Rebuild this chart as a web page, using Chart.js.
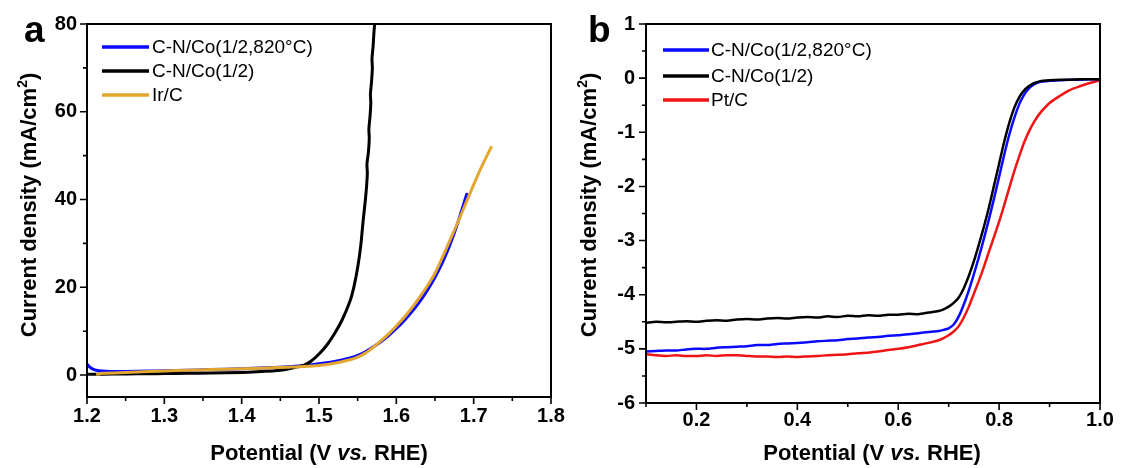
<!DOCTYPE html>
<html>
<head>
<meta charset="utf-8">
<title>OER / ORR polarization curves</title>
<script src="https://cdn.jsdelivr.net/npm/chart.js@4/dist/chart.umd.min.js"></script>
<style>
  body { margin: 0; background: #fff; }
  canvas { position: absolute; left: 0; top: 0; }
</style>
</head>
<body>
<canvas id="chartA" width="1135" height="468"></canvas>
<canvas id="chartB" width="1135" height="468"></canvas>
<script>
// ---- panel a : OER ----
const oerX_CNCo820 = [1.200,1.203,1.207,1.212,1.220,1.230,1.250,1.280,1.300,1.330,1.360,1.400,1.430,1.460,1.480,1.500,1.520,1.540,1.550,1.560,1.570,1.580,1.590,1.600,1.610,1.620,1.630,1.640,1.650,1.660,1.670,1.680,1.691];
const oerY_CNCo820 = [2.5,1.9,1.4,1.1,0.9,0.8,0.8,0.9,1.0,1.1,1.25,1.45,1.65,1.9,2.2,2.6,3.1,3.9,4.5,5.3,6.4,7.6,9.0,10.6,12.4,14.4,16.7,19.3,22.3,25.8,30.0,35.0,41.2];

const oerX_CNCo = [1.200,1.220,1.250,1.280,1.300,1.330,1.360,1.400,1.420,1.440,1.450,1.460,1.470,1.480,1.490,1.500,1.510,1.520,1.530,1.540,1.545,1.550,1.554,1.557,1.560,1.5615,1.5625,1.5620,1.5640,1.5650,1.5645,1.5660,1.5670,1.5665,1.5680,1.5690,1.5685,1.5700,1.5710,1.5720];
const oerY_CNCo = [0.20,0.20,0.25,0.30,0.35,0.40,0.45,0.60,0.75,0.95,1.10,1.40,1.80,2.20,3.20,4.80,6.80,9.40,12.6,16.8,20.0,24.5,29.5,35.0,40.0,43.0,46.0,48.0,51.0,54.0,56.0,59.0,62.0,64.0,67.0,70.0,72.0,75.0,78.0,80.0];

const oerX_IrC = [1.2135,1.220,1.250,1.280,1.300,1.330,1.360,1.400,1.430,1.460,1.480,1.500,1.520,1.540,1.550,1.560,1.570,1.580,1.590,1.600,1.610,1.620,1.630,1.640,1.650,1.660,1.670,1.680,1.690,1.700,1.710,1.7226];
const oerY_IrC = [0.2,0.4,0.6,0.8,0.95,1.1,1.25,1.45,1.6,1.8,1.95,2.2,2.7,3.5,4.1,5.0,6.3,7.8,9.4,11.2,13.1,15.3,17.7,20.3,23.2,27.0,31.0,35.0,39.2,43.4,47.4,51.9];

const oerXTicks = [1.2,1.3,1.4,1.5,1.6,1.7,1.8];
const oerXMinor = [1.25,1.35,1.45,1.55,1.65,1.75];
const oerYTicks = [0,20,40,60,80];
const oerYMinor = [10,30,50,70];

// ---- panel b : ORR ----
const orrX = [0.10,0.12,0.14,0.16,0.18,0.20,0.22,0.24,0.26,0.28,0.30,0.32,0.34,0.36,0.38,0.40,0.42,0.44,0.46,0.48,0.50,0.52,0.54,0.56,0.58,0.60,0.62,0.64,0.66,0.68,
              0.69,0.70,0.71,0.72,0.73,0.74,0.75,0.76,0.77,0.78,0.79,0.80,0.81,0.82,0.83,0.84,0.85,0.86,0.87,0.88,
              0.90,0.92,0.94,0.96,0.98,1.00];
const orrY_CNCo820 = [-5.05,-5.04,-5.03,-5.03,-5.01,-5.00,-5.00,-4.98,-4.97,-4.96,-4.95,-4.93,-4.93,-4.91,-4.90,-4.89,-4.88,-4.86,-4.85,-4.84,-4.82,-4.81,-4.79,-4.78,-4.76,-4.75,-4.73,-4.71,-4.69,-4.67,
                      -4.65,-4.62,-4.55,-4.40,-4.18,-3.92,-3.62,-3.30,-2.96,-2.60,-2.22,-1.82,-1.42,-1.05,-0.74,-0.48,-0.30,-0.18,-0.11,-0.07,
                      -0.05,-0.04,-0.03,-0.03,-0.02,-0.02];
const orrY_CNCo = [-4.52,-4.50,-4.51,-4.50,-4.49,-4.50,-4.48,-4.47,-4.48,-4.46,-4.45,-4.46,-4.44,-4.43,-4.44,-4.42,-4.41,-4.42,-4.40,-4.41,-4.39,-4.40,-4.38,-4.39,-4.37,-4.37,-4.35,-4.36,-4.33,-4.30,
                   -4.27,-4.22,-4.15,-4.05,-3.88,-3.65,-3.38,-3.07,-2.74,-2.38,-1.98,-1.58,-1.18,-0.83,-0.55,-0.35,-0.22,-0.14,-0.09,-0.06,
                   -0.04,-0.03,-0.03,-0.02,-0.02,-0.02];
const orrY_PtC = [-5.10,-5.12,-5.13,-5.12,-5.13,-5.13,-5.12,-5.13,-5.12,-5.12,-5.13,-5.14,-5.14,-5.15,-5.14,-5.15,-5.14,-5.13,-5.12,-5.11,-5.10,-5.08,-5.07,-5.05,-5.02,-5.00,-4.97,-4.93,-4.89,-4.84,
                  -4.80,-4.75,-4.68,-4.58,-4.42,-4.22,-3.98,-3.74,-3.48,-3.20,-2.93,-2.65,-2.35,-2.03,-1.72,-1.44,-1.18,-0.97,-0.80,-0.66,
                  -0.46,-0.33,-0.22,-0.15,-0.09,-0.04];

const orrXTicks = [0.2,0.4,0.6,0.8,1.0];
const orrXMinor = [0.1,0.3,0.5,0.7,0.9];
const orrYTicks = [1,0,-1,-2,-3,-4,-5,-6];
const orrYMinor = [0.5,-0.5,-1.5,-2.5,-3.5,-4.5,-5.5];

const FONT = 'Arial, "Liberation Sans", sans-serif';
const BLUE = '#0a0aff', BLACK = '#000000', GOLD = '#e3a72f', RED = '#f01414';

function pts(xs, ys) { return xs.map((x, i) => ({x: x, y: ys[i]})); }

// frame, outward ticks, legend, axis titles and the panel letter
const decor = {
  id: 'decor',
  afterDatasetsDraw(chart, args, o) {
    const ctx = chart.ctx, ca = chart.chartArea;
    const sx = chart.scales.x, sy = chart.scales.y;
    ctx.save();
    ctx.strokeStyle = '#000';
    ctx.lineWidth = 2;
    ctx.strokeRect(ca.left, ca.top, ca.right - ca.left, ca.bottom - ca.top);

    ctx.lineWidth = 1.6;
    ctx.beginPath();
    const tick = (vals, len, horiz) => vals.forEach(v => {
      if (horiz) { const p = sx.getPixelForValue(v); ctx.moveTo(p, ca.bottom); ctx.lineTo(p, ca.bottom + len); }
      else { const p = sy.getPixelForValue(v); ctx.moveTo(ca.left, p); ctx.lineTo(ca.left - len, p); }
    });
    tick(o.xMajor, 7, true); tick(o.xMinor, 4, true);
    tick(o.yMajor, 7, false); tick(o.yMinor, 4, false);
    ctx.stroke();

    // legend
    ctx.font = '19px ' + FONT;
    ctx.textBaseline = 'middle';
    ctx.textAlign = 'left';
    chart.data.datasets.forEach((ds, i) => {
      const y = o.legend.rows[i];
      ctx.strokeStyle = ds.borderColor;
      ctx.lineWidth = 3.5;
      ctx.beginPath();
      ctx.moveTo(o.legend.x0, y); ctx.lineTo(o.legend.x1, y);
      ctx.stroke();
      ctx.fillStyle = '#000';
      ctx.fillText(ds.label, o.legend.tx, y + 1);
    });

    // x title, "vs." in italics
    ctx.textBaseline = 'alphabetic';
    const parts = [['bold 22px ', 'Potential (V '], ['italic bold 22px ', 'vs.'], ['bold 22px ', ' RHE)']];
    let w = 0;
    parts.forEach(p => { ctx.font = p[0] + FONT; w += ctx.measureText(p[1]).width; });
    let x = o.xTitle[0] - w / 2;
    parts.forEach(p => { ctx.font = p[0] + FONT; ctx.fillText(p[1], x, o.xTitle[1]); x += ctx.measureText(p[1]).width; });

    // y title with superscript 2
    ctx.translate(o.yTitle[0], o.yTitle[1]);
    ctx.rotate(-Math.PI / 2);
    const main = 'Current density (mA/cm';
    ctx.font = 'bold 22px ' + FONT;
    const w1 = ctx.measureText(main).width, w3 = ctx.measureText(')').width;
    ctx.font = 'bold 14px ' + FONT;
    const w2 = ctx.measureText('2').width;
    let t = -(w1 + w2 + w3) / 2;
    ctx.font = 'bold 22px ' + FONT;
    ctx.fillText(main, t, 0); t += w1;
    ctx.font = 'bold 14px ' + FONT;
    ctx.fillText('2', t, -9); t += w2;
    ctx.font = 'bold 22px ' + FONT;
    ctx.fillText(')', t, 0);
    ctx.setTransform(1, 0, 0, 1, 0, 0);

    // panel letter
    ctx.font = 'bold 37px ' + FONT;
    ctx.fillStyle = '#000';
    ctx.fillText(o.letter[0], o.letter[1], o.letter[2]);
    ctx.restore();
  }
};

function makeChart(id, datasets, c) {
  return new Chart(document.getElementById(id), {
    type: 'line',
    data: { datasets: datasets },
    options: {
      responsive: false,
      animation: false,
      devicePixelRatio: 1,
      layout: { padding: { left: c.left - 60, right: 1135 - c.right, top: c.top, bottom: 0 } },
      elements: { point: { radius: 0 }, line: { tension: 0.25, borderCapStyle: 'round', borderJoinStyle: 'round' } },
      plugins: { legend: { display: false }, tooltip: { enabled: false }, decor: c.decor },
      scales: {
        x: {
          type: 'linear', min: c.xMin, max: c.xMax,
          grid: { display: false, drawTicks: false }, border: { display: false },
          afterBuildTicks: s => { s.ticks = c.xTicks.map(v => ({value: v})); },
          afterFit: s => { s.height = 468 - c.bottom; },
          ticks: { autoSkip: false, maxRotation: 0, padding: c.xPad, color: '#000',
                   font: { family: FONT, size: 20, weight: 'bold' }, callback: v => v.toFixed(1) }
        },
        y: {
          type: 'linear', min: c.yMin, max: c.yMax,
          grid: { display: false, drawTicks: false }, border: { display: false },
          afterBuildTicks: s => { s.ticks = c.yTicks.map(v => ({value: v})); },
          afterFit: s => { s.width = 60; },
          ticks: { autoSkip: false, padding: c.yPad, color: '#000',
                   font: { family: FONT, size: 20, weight: 'bold' }, callback: v => String(v) }
        }
      }
    },
    plugins: [decor]
  });
}

makeChart('chartA', [
  { label: 'C-N/Co(1/2,820°C)', data: pts(oerX_CNCo820, oerY_CNCo820), borderColor: BLUE, borderWidth: 3, order: 2 },
  { label: 'C-N/Co(1/2)', data: pts(oerX_CNCo, oerY_CNCo), borderColor: BLACK, borderWidth: 3, order: 1 },
  { label: 'Ir/C', data: pts(oerX_IrC, oerY_IrC), borderColor: GOLD, borderWidth: 3, order: 0 }
], {
  left: 87, right: 551, top: 24, bottom: 397,
  xMin: 1.2, xMax: 1.8, yMin: -5, yMax: 80,
  xTicks: oerXTicks, yTicks: oerYTicks, xPad: 7, yPad: 10,
  decor: {
    xMajor: oerXTicks, xMinor: oerXMinor, yMajor: oerYTicks, yMinor: oerYMinor,
    legend: { x0: 102, x1: 149, tx: 152, rows: [47, 71, 95] },
    xTitle: [319, 460], yTitle: [36, 205], letter: ['a', 24, 42]
  }
});

makeChart('chartB', [
  { label: 'C-N/Co(1/2,820°C)', data: pts(orrX, orrY_CNCo820), borderColor: BLUE, borderWidth: 2.5, order: 1 },
  { label: 'C-N/Co(1/2)', data: pts(orrX, orrY_CNCo), borderColor: BLACK, borderWidth: 2.5, order: 0 },
  { label: 'Pt/C', data: pts(orrX, orrY_PtC), borderColor: RED, borderWidth: 2.5, order: 2 }
], {
  left: 646, right: 1100, top: 24, bottom: 403,
  xMin: 0.1, xMax: 1.0, yMin: -6, yMax: 1,
  xTicks: orrXTicks, yTicks: orrYTicks, xPad: 5, yPad: 11,
  decor: {
    xMajor: orrXTicks, xMinor: orrXMinor, yMajor: orrYTicks, yMinor: orrYMinor,
    legend: { x0: 663, x1: 709, tx: 711, rows: [50, 76, 100] },
    xTitle: [872, 460], yTitle: [596, 205], letter: ['b', 588, 42]
  }
});
</script>
</body>
</html>
